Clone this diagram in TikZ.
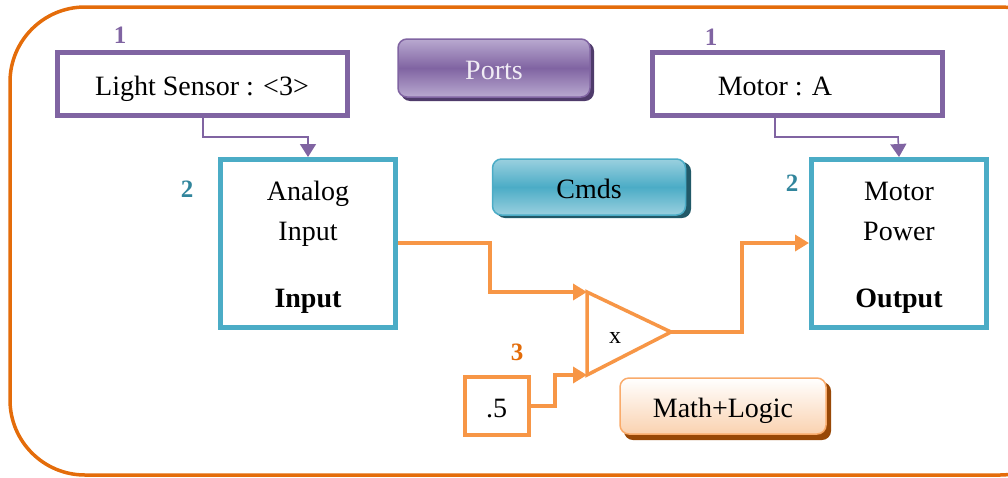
\documentclass[tikz,border=0pt]{standalone}
\usepackage{fontspec}
\setmainfont{Liberation Serif}
\usetikzlibrary{arrows.meta,shapes.geometric}

\definecolor{frameorange}{HTML}{E46C0A}
\definecolor{portpurple}{HTML}{8064A2}
\definecolor{portlight}{HTML}{B9A9D0}
\definecolor{portdark}{HTML}{4F3B6B}
\definecolor{cmdteal}{HTML}{4BACC6}
\definecolor{cmdlight}{HTML}{9AD0DF}
\definecolor{cmddark}{HTML}{215968}
\definecolor{numteal}{HTML}{31859C}
\definecolor{mathorange}{HTML}{F79646}
\definecolor{mathlight}{HTML}{FFFFFF}
\definecolor{mathmid}{HTML}{FAD2B0}
\definecolor{mathdark}{HTML}{984807}
\definecolor{numorange}{HTML}{E36C09}

\tikzset{
  txt/.style={font=\fontsize{28}{32}\selectfont, text=black, anchor=base, inner sep=0pt},
  boldtxt/.style={txt, font=\bfseries\fontsize{28}{32}\selectfont},
  portbox/.style={draw=portpurple, line width=5pt, fill=white, inner sep=0pt},
  blockbox/.style={draw=cmdteal, line width=5pt, fill=white, inner sep=0pt},
  mathbox/.style={draw=mathorange, line width=4pt, fill=white, inner sep=0pt},
  numlabel/.style={font=\bfseries\fontsize{25}{28}\selectfont, anchor=base, inner sep=0pt},
  portlink/.style={draw=portpurple, line width=1.6pt, -{Triangle[length=13pt,width=16pt]}},
  mathlink/.style={draw=mathorange, line width=3.5pt, -{Triangle[length=14pt,width=16pt]}},
  button/.style={rounded corners=9pt, inner sep=0pt}
}

\begin{document}
\begin{tikzpicture}[x=1pt,y=-1pt]
\useasboundingbox (0,0) rectangle (1008,477);
\clip (0,0) rectangle (1008,477);

% outer frame
\draw[frameorange, line width=3.5pt, rounded corners=75pt] (10,7) rectangle (1075,475);

% port blocks
\node[portbox, minimum width=290pt, minimum height=63pt] (sensor) at (202.5,84) {};
\node[txt] (sensorT) at (202,95) {Light Sensor : <3>};
\node[portbox, minimum width=290pt, minimum height=63pt] (motor) at (797.5,84) {};
\node[txt] (motorT) at (775,95) {Motor : A};
\node[numlabel, text=portpurple] (n1a) at (120,43) {1};
\node[numlabel, text=portpurple] (n1b) at (711,45) {1};

% command blocks
\node[blockbox, minimum width=175pt, minimum height=168pt] (analog) at (308,243.5) {};
\node[txt] (analogA) at (308,200) {Analog};
\node[txt] (analogB) at (308,240) {Input};
\node[boldtxt] (analogC) at (308,307) {Input};
\node[blockbox, minimum width=175pt, minimum height=168pt] (power) at (899,243.5) {};
\node[txt] (powerA) at (899,200) {Motor};
\node[txt] (powerB) at (899,240) {Power};
\node[boldtxt] (powerC) at (899,307) {Output};
\node[numlabel, text=numteal] (n2a) at (187,197) {2};
\node[numlabel, text=numteal] (n2b) at (792,191) {2};

% multiply block and constant
\coordinate (tl) at (587,292);
\coordinate (bl) at (587,375);
\coordinate (apex) at (671,332);
\draw[mathorange, line width=3.5pt, line join=miter, fill=white] (tl) -- (apex) -- (bl) -- cycle;
\node[txt, font=\fontsize{24}{28}\selectfont] (mul) at (615,343) {x};
\node[mathbox, minimum width=64pt, minimum height=58pt] (half) at (496.5,406) {};
\node[txt] (halfT) at (496.5,417) {.5};
\node[numlabel, text=numorange] (n3) at (517,360) {3};

% connectors
\coordinate (s1) at (203,118);
\draw[portlink] (s1) |- (308,137) -- (analog.north);
\coordinate (m1) at (775,118);
\draw[portlink] (m1) |- (898,137) -- (power.north);
\coordinate (a1) at (analog.east |- 0,243);
\draw[mathlink] (a1) -- (490,243) |- (tl);
\coordinate (h1) at (half.east);
\draw[mathlink] (h1) -- (555,406) |- (bl);
\coordinate (p1) at (power.west |- 0,243);
\draw[mathlink] (apex) -- (742,332) |- (p1);

% palette buttons
\fill[portdark, rounded corners=9pt] (401,42) rectangle (594,101);
\node[button, minimum width=192pt, minimum height=58pt, draw=portpurple, line width=1.5pt,
  top color=portlight, bottom color=portlight, middle color=portpurple] (ports) at (494,68) {};
\node[txt, text=white!88!portpurple] (portsT) at (494,79) {Ports};
\fill[cmddark, rounded corners=9pt] (496,162) rectangle (691,218);
\node[button, minimum width=193pt, minimum height=56pt, draw=cmdteal, line width=1.5pt,
  top color=cmdlight, bottom color=cmdlight, middle color=cmdteal] (cmds) at (589,187) {};
\node[txt] (cmdsT) at (589,198) {Cmds};
\fill[mathdark, rounded corners=9pt] (624,382) rectangle (831,440);
\node[button, minimum width=206pt, minimum height=56pt, draw=mathorange!80, line width=1.5pt,
  top color=mathlight, bottom color=mathmid] (mathlogic) at (723,406) {};
\node[txt] (mathT) at (723,417) {Math+Logic};
\end{tikzpicture}
\end{document}
